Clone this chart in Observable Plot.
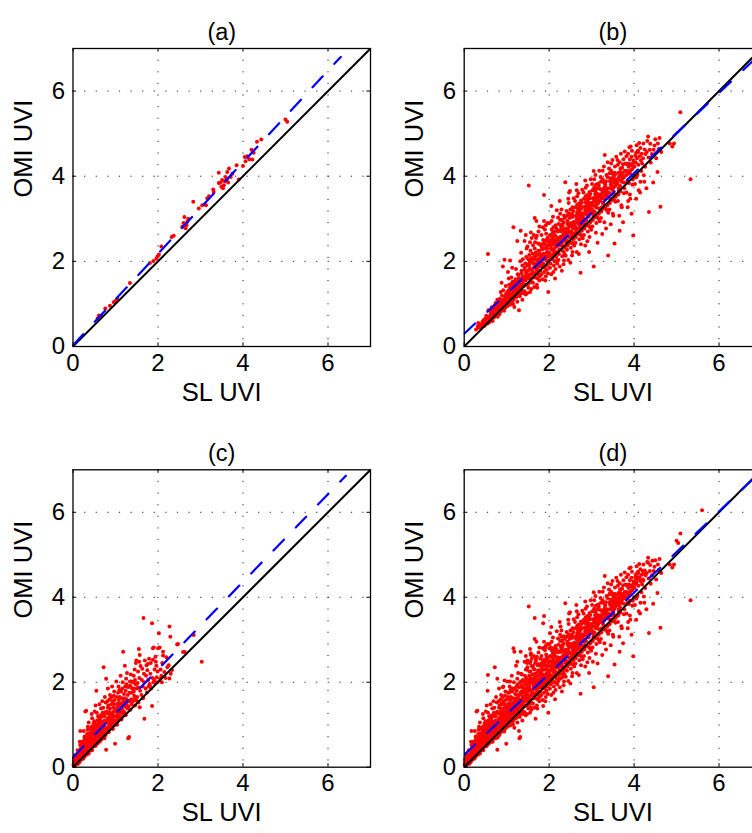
<!DOCTYPE html>
<html><head><meta charset="utf-8">
<script src="https://cdn.jsdelivr.net/npm/d3@7"></script>
<script src="https://cdn.jsdelivr.net/npm/@observablehq/plot@0.6"></script>
<style>
body{margin:0;background:#fff;}
#wrap{position:relative;width:752px;height:833px;overflow:hidden;background:#fff;}
.panel{position:absolute;}
</style></head><body><div id="wrap"></div>
<script>
const axisTicks = [0, 2, 4, 6];
const gridLines = [2, 4, 6];
const axisDomain = [0, 7];
const panelTitles = ["(a)", "(b)", "(c)", "(d)"];
const xLabel = "SL UVI";
const yLabel = "OMI UVI";
// regression lines: [intercept, slope] and drawn x-range
const fitA = [0.03, 1.075];
const fitB = [0.30, 0.943];
const fitC = [0.235, 1.032];
const fitD = [0.29, 0.955];
const fitRangeA = [0, 6.3];
const fitRangeB = [0, 7];
const fitRangeC = [0, 6.42];
const fitRangeD = [0, 7];

const ptsA = [[0.58,0.66],[0.61,0.73],[0.66,0.72],[0.76,0.89],[0.87,0.96],[0.96,1.04],[1.04,1.12],[1.00,1.07],[1.34,1.49],[1.81,1.96],[1.89,2.01],[1.96,2.06],[2.02,2.16],[1.99,2.12],[2.08,2.35],[2.32,2.57],[2.37,2.60],[2.57,2.81],[2.62,3.04],[2.67,2.85],[2.71,3.00],[2.60,2.90],[2.65,2.78],[2.69,2.93],[2.83,3.40],[2.96,3.24],[3.04,3.32],[3.16,3.48],[3.20,3.53],[3.31,3.63],[3.30,3.69],[3.13,3.32],[3.43,4.08],[3.43,3.84],[3.49,3.75],[3.51,3.91],[3.55,3.79],[3.59,3.98],[3.63,4.10],[3.67,4.18],[3.71,3.98],[3.75,4.06],[3.47,3.85],[3.57,3.88],[3.62,3.92],[3.53,3.72],[3.65,3.85],[3.85,4.26],[3.90,3.92],[4.00,4.24],[4.04,4.45],[4.10,4.47],[4.22,4.39],[4.25,4.55],[4.20,4.62],[4.15,4.40],[4.06,4.35],[4.33,4.81],[4.43,4.86],[5.00,5.33],[5.04,5.28]];

const ptsBspread = [
[0.28,0.40],[0.32,0.47],[0.35,0.44],[0.37,0.52],[0.39,0.46],[0.33,0.55],
[0.41,0.50],[0.43,0.58],[0.44,0.52],[0.46,0.62],[0.47,0.55],[0.48,0.49],[0.50,0.66],[0.51,0.58],[0.52,0.72],[0.53,0.61],[0.55,0.54],[0.56,0.68],[0.57,0.85],[0.58,0.63],[0.59,0.57],[0.56,2.17],
[0.61,0.70],[0.62,0.62],[0.63,0.78],[0.64,0.66],[0.65,0.92],[0.66,0.72],[0.67,0.60],[0.68,0.81],[0.69,0.75],[0.70,0.68],[0.71,0.88],[0.72,0.79],[0.73,0.71],[0.74,1.02],[0.75,0.84],[0.76,0.74],[0.77,0.93],[0.78,0.80],[0.79,0.70],[0.72,0.97],[0.66,0.85],[0.78,1.10],
[0.81,0.86],[0.82,0.98],[0.83,0.76],[0.84,1.12],[0.85,0.92],[0.86,0.82],[0.87,1.04],[0.88,0.95],[0.89,1.20],[0.90,0.87],[0.91,1.00],[0.92,1.32],[0.93,0.90],[0.94,1.08],[0.95,2.04],[0.96,0.95],[0.97,1.16],[0.98,1.42],[0.99,1.02],[0.86,1.28],[0.94,0.84],[0.91,1.88],[0.83,1.05],[0.97,0.91],[0.88,1.50],[0.99,1.25],
[1.01,1.10],[1.02,0.95],[1.03,1.30],[1.04,1.18],[1.05,1.02],[1.06,1.45],[1.07,1.22],[1.08,0.98],[1.09,1.35],[1.10,1.12],[1.11,1.62],[1.12,1.25],[1.13,1.05],[1.14,1.40],[1.15,1.18],[1.16,2.80],[1.17,1.30],[1.18,0.93],[1.19,1.52],[1.03,1.75],[1.06,1.28],[1.09,1.15],[1.12,1.48],[1.15,1.00],[1.18,1.38],[1.05,1.60],[1.13,1.85],[1.19,1.21],[1.08,2.02],[1.16,1.10],
[1.21,1.35],[1.22,1.15],[1.23,1.55],[1.24,1.28],[1.25,1.05],[1.26,1.70],[1.27,1.42],[1.28,1.20],[1.29,0.85],[1.30,1.60],[1.31,1.38],[1.32,2.00],[1.33,1.25],[1.34,1.50],[1.35,1.78],[1.36,1.32],[1.37,1.10],[1.38,1.65],[1.39,1.45],[1.22,1.82],[1.25,2.48],[1.28,1.60],[1.31,1.18],[1.34,2.20],[1.37,1.90],[1.23,1.40],[1.29,1.52],[1.35,1.40],[1.39,1.25],[1.33,2.72],[1.26,1.22],[1.38,2.05],[1.30,1.30],[1.36,1.55],
[1.41,1.55],[1.42,1.30],[1.43,1.85],[1.44,1.62],[1.45,1.22],[1.46,2.10],[1.47,1.72],[1.48,1.45],[1.49,2.35],[1.50,1.60],[1.51,1.38],[1.52,3.78],[1.53,1.90],[1.54,1.68],[1.55,1.28],[1.56,2.25],[1.57,1.80],[1.58,1.52],[1.59,2.55],[1.42,2.48],[1.44,1.95],[1.47,2.30],[1.50,1.78],[1.53,2.15],[1.56,1.60],[1.58,2.02],[1.43,1.45],[1.46,1.68],[1.49,1.90],[1.52,1.48],[1.55,2.45],[1.57,2.68],[1.59,1.70],[1.45,2.62],[1.51,2.05],[1.54,1.98],[1.48,1.25],[1.58,1.35],
[1.61,1.75],[1.62,1.50],[1.63,2.05],[1.64,1.85],[1.65,1.40],[1.66,2.30],[1.67,1.95],[1.68,1.62],[1.69,2.55],[1.70,1.80],[1.71,1.45],[1.72,2.15],[1.73,2.00],[1.74,1.70],[1.75,2.70],[1.76,1.88],[1.77,1.55],[1.78,2.40],[1.79,2.10],[1.62,2.38],[1.64,2.62],[1.66,1.72],[1.68,2.20],[1.70,2.95],[1.72,1.85],[1.74,2.42],[1.76,2.25],[1.78,1.65],[1.63,1.62],[1.65,1.95],[1.67,2.45],[1.69,1.90],[1.71,2.60],[1.73,1.60],[1.75,2.05],[1.77,2.82],[1.79,1.78],[1.66,3.02],[1.72,1.38],[1.61,2.18],
[1.81,2.00],[1.82,1.70],[1.83,2.28],[1.84,2.08],[1.85,1.58],[1.86,2.50],[1.87,2.18],[1.88,3.56],[1.89,1.85],[1.90,2.75],[1.91,2.05],[1.92,1.65],[1.93,2.38],[1.94,2.20],[1.95,1.90],[1.96,2.90],[1.97,2.12],[1.98,1.28],[1.99,2.45],[1.82,2.62],[1.84,1.88],[1.86,2.30],[1.88,1.75],[1.90,2.15],[1.92,2.85],[1.94,1.80],[1.96,2.55],[1.98,2.02],[1.83,1.95],[1.85,2.80],[1.87,2.40],[1.89,2.10],[1.91,1.55],[1.93,2.65],[1.95,2.30],[1.97,1.72],[1.99,2.20],[1.81,2.40],[1.86,1.95],[1.92,2.48],[1.96,2.00],[1.88,2.95],
[2.01,2.20],[2.02,1.85],[2.03,2.50],[2.04,2.30],[2.05,1.70],[2.06,2.75],[2.07,2.40],[2.08,2.05],[2.09,3.05],[2.10,2.25],[2.11,1.90],[2.12,2.62],[2.13,2.45],[2.14,1.60],[2.15,2.85],[2.16,2.35],[2.17,2.10],[2.18,3.20],[2.19,2.55],[2.02,2.60],[2.04,2.08],[2.06,2.95],[2.08,2.45],[2.10,1.75],[2.12,2.30],[2.14,2.70],[2.16,2.00],[2.18,2.48],[2.01,2.90],[2.03,1.95],[2.05,2.38],[2.07,2.15],[2.09,2.68],[2.11,2.52],[2.13,2.00],[2.15,2.40],[2.17,2.78],[2.19,1.95],[2.05,3.30],[2.10,2.80],[2.15,1.82],[2.08,2.58],[2.12,2.18],[2.18,2.22],
[2.21,2.42],[2.22,2.03],[2.23,2.73],[2.24,2.48],[2.25,1.88],[2.26,2.97],[2.27,2.58],[2.28,2.27],[2.29,3.22],[2.30,2.43],[2.31,2.12],[2.32,2.85],[2.33,2.63],[2.34,1.93],[2.35,3.08],[2.36,2.52],[2.37,2.33],[2.38,3.86],[2.39,2.77],[2.22,2.88],[2.24,2.28],[2.26,3.12],[2.28,2.71],[2.30,1.78],[2.32,2.55],[2.34,2.92],[2.36,2.18],[2.38,2.67],[2.21,3.03],[2.23,2.17],[2.25,2.56],[2.27,2.37],[2.29,2.86],[2.31,2.74],[2.33,2.24],[2.35,2.60],[2.37,3.02],[2.39,2.13],[2.25,3.42],[2.30,2.98],[2.35,2.02],[2.28,2.82],[2.32,2.36],[2.38,2.46],
[2.41,2.62],[2.42,2.27],[2.43,2.88],[2.44,2.72],[2.45,2.03],[2.46,3.13],[2.47,2.82],[2.48,2.43],[2.49,3.65],[2.50,2.67],[2.51,2.32],[2.52,3.04],[2.53,2.83],[2.54,2.14],[2.55,3.27],[2.56,2.77],[2.57,2.52],[2.58,3.48],[2.59,2.93],[2.42,3.07],[2.44,2.48],[2.46,3.37],[2.48,2.86],[2.50,1.97],[2.52,2.70],[2.54,3.12],[2.56,2.42],[2.58,2.92],[2.41,3.18],[2.43,2.37],[2.45,2.76],[2.47,2.57],[2.49,3.10],[2.51,2.90],[2.53,2.44],[2.55,2.84],[2.57,3.18],[2.59,2.37],[2.45,3.47],[2.50,3.22],[2.55,2.22],[2.48,3.02],[2.52,2.56],[2.58,2.66],[2.47,3.62],
[2.61,2.82],[2.62,2.44],[2.63,3.08],[2.64,2.92],[2.65,2.22],[2.66,3.33],[2.67,3.02],[2.68,2.64],[2.69,3.60],[2.70,2.87],[2.71,2.52],[2.72,3.20],[2.73,3.07],[2.74,1.73],[2.75,3.43],[2.76,2.97],[2.77,2.72],[2.78,3.68],[2.79,3.13],[2.62,3.27],[2.64,2.67],[2.66,3.53],[2.68,3.10],[2.70,2.17],[2.72,2.94],[2.74,3.32],[2.76,2.60],[2.78,3.08],[2.61,3.42],[2.63,2.57],[2.65,3.00],[2.67,2.77],[2.69,3.26],[2.71,3.14],[2.73,2.64],[2.75,3.04],[2.77,3.38],[2.79,2.54],[2.65,3.67],[2.70,3.36],[2.75,2.40],[2.68,3.22],[2.72,2.80],[2.78,2.86],[2.64,3.82],
[2.81,3.02],[2.82,2.62],[2.83,3.28],[2.84,3.12],[2.85,2.37],[2.86,3.53],[2.87,3.22],[2.88,2.84],[2.89,3.78],[2.90,3.07],[2.91,2.70],[2.92,3.40],[2.93,3.27],[2.94,2.22],[2.95,3.63],[2.96,3.17],[2.97,2.92],[2.98,3.93],[2.99,3.37],[2.82,3.47],[2.84,2.87],[2.86,3.73],[2.88,3.30],[2.90,2.47],[2.92,3.14],[2.94,3.52],[2.96,2.80],[2.98,3.32],[2.81,3.62],[2.83,2.77],[2.85,3.20],[2.87,2.97],[2.89,3.46],[2.91,3.34],[2.93,2.84],[2.95,3.24],[2.97,3.58],[2.99,2.74],[2.85,3.90],[2.90,3.56],[2.95,2.57],[2.88,3.42],
[3.01,3.22],[3.02,2.82],[3.03,3.48],[3.04,3.32],[3.05,1.88],[3.06,3.73],[3.07,3.42],[3.08,3.04],[3.09,4.03],[3.10,3.27],[3.11,2.90],[3.12,3.60],[3.13,3.47],[3.14,2.44],[3.15,3.83],[3.16,3.37],[3.17,3.12],[3.18,4.13],[3.19,3.57],[3.02,3.67],[3.04,3.07],[3.06,3.93],[3.08,3.50],[3.10,2.67],[3.12,3.34],[3.14,3.72],[3.16,3.00],[3.18,3.52],[3.01,3.82],[3.03,2.97],[3.05,3.40],[3.07,3.17],[3.09,3.66],[3.11,3.54],[3.13,3.04],[3.15,3.44],[3.17,3.78],[3.19,2.94],[3.05,4.12],[3.10,3.80],
[3.21,3.42],[3.22,3.02],[3.23,3.68],[3.24,3.52],[3.25,2.64],[3.26,3.93],[3.27,3.62],[3.28,3.24],[3.29,4.23],[3.30,3.47],[3.31,4.50],[3.32,3.80],[3.33,3.67],[3.34,2.77],[3.35,4.03],[3.36,3.57],[3.37,3.32],[3.38,4.33],[3.39,2.14],[3.22,3.87],[3.24,3.27],[3.26,4.13],[3.28,3.70],[3.30,2.92],[3.32,3.54],[3.34,3.88],[3.36,3.20],[3.38,3.72],[3.21,3.98],[3.23,3.17],[3.25,3.60],[3.27,3.37],[3.29,3.86],[3.31,3.74],[3.33,3.24],[3.35,3.64],[3.37,3.98],[3.39,3.14],
[3.41,3.62],[3.42,3.22],[3.43,3.88],[3.44,3.72],[3.45,2.87],[3.46,4.13],[3.47,3.82],[3.48,3.44],[3.49,4.38],[3.50,3.67],[3.51,3.07],[3.52,4.00],[3.53,3.87],[3.54,2.42],[3.55,4.23],[3.56,3.77],[3.57,3.52],[3.58,4.46],[3.59,3.93],[3.42,4.07],[3.44,3.47],[3.46,4.30],[3.48,3.90],[3.50,3.12],[3.52,3.74],[3.54,4.08],[3.56,3.40],[3.58,3.92],[3.41,4.18],[3.43,3.37],[3.45,3.80],[3.47,3.57],[3.49,4.06],[3.51,3.94],[3.53,3.44],[3.55,3.84],
[3.61,3.82],[3.62,3.42],[3.63,4.08],[3.64,3.92],[3.65,3.07],[3.66,4.33],[3.67,4.02],[3.68,3.64],[3.69,4.53],[3.70,3.87],[3.71,3.27],[3.72,4.20],[3.73,4.07],[3.74,2.92],[3.75,4.40],[3.76,3.97],[3.77,3.72],[3.78,4.58],[3.79,4.13],[3.62,4.27],[3.64,3.67],[3.66,2.72],[3.68,4.10],[3.70,3.32],[3.72,3.94],[3.74,4.28],[3.76,3.60],[3.78,4.12],[3.61,4.38],[3.63,3.57],[3.65,4.00],[3.67,3.77],
[3.81,4.02],[3.82,3.62],[3.83,4.28],[3.84,4.12],[3.85,3.27],[3.86,4.53],[3.87,4.22],[3.88,3.84],[3.89,4.68],[3.90,4.07],[3.91,3.47],[3.92,4.70],[3.93,4.27],[3.94,3.12],[3.95,4.60],[3.96,4.17],[3.97,3.92],[3.98,2.61],[3.99,4.37],[3.82,4.47],[3.84,3.87],[3.86,3.42],[3.88,4.30],[3.90,3.57],[3.92,4.14],[3.94,4.46],[3.96,3.80],[3.98,4.32],
[4.01,4.22],[4.02,3.82],[4.03,4.48],[4.04,4.32],[4.05,3.47],[4.06,4.73],[4.07,4.42],[4.08,4.04],[4.09,4.60],[4.10,4.27],[4.11,3.67],[4.12,4.78],[4.13,4.47],[4.14,3.62],[4.15,4.66],[4.16,4.37],[4.17,4.12],[4.18,4.53],[4.19,4.30],[4.05,3.97],[4.10,4.57],[4.15,3.87],
[4.21,4.42],[4.23,4.02],[4.25,4.63],[4.27,4.52],[4.29,3.72],[4.31,4.83],[4.33,4.93],[4.35,3.16],[4.37,4.62],[4.39,4.32],[4.22,4.77],[4.26,4.22],[4.30,4.57],[4.34,4.44],[4.38,4.76],[4.24,3.87],
[4.42,4.52],[4.45,3.85],[4.48,4.72],[4.50,4.87],[4.52,4.42],[4.55,4.10],[4.58,4.64],[4.60,4.90],[4.62,3.28],[4.64,4.57],[4.46,4.62],[4.56,4.77],
[4.84,4.77],[4.90,4.70],[4.94,4.77],[5.09,5.50],[5.33,3.93]];

const ptsBcore = [[0.45,0.56],[0.49,0.60],[0.54,0.66],[0.58,0.70],[0.62,0.74],[0.64,0.80],[0.68,0.78],[0.70,0.86],[0.73,0.84],[0.75,0.92],[0.77,0.86],[0.80,0.95],[0.82,0.90],[0.84,0.99],[0.87,0.97],[0.89,1.06],[0.90,0.98],[0.92,1.10],[0.95,1.05],[0.96,1.18],[0.98,1.08],[1.00,1.22],[1.02,1.15],[1.04,1.30],[1.06,1.12],[1.07,1.36],[1.09,1.24],[1.11,1.40],[1.13,1.20],[1.14,1.52],[1.16,1.33],[1.18,1.45],[1.20,1.28],[1.21,1.58],[1.23,1.36],[1.25,1.50],[1.27,1.32],[1.28,1.68],[1.30,1.45],[1.32,1.58],[1.33,1.40],[1.35,1.72],[1.37,1.52],[1.39,1.62],[1.40,1.42],[1.42,1.80],[1.44,1.55],[1.46,1.74],[1.48,1.60],[1.50,1.92],[1.52,1.66],[1.54,1.82],[1.56,1.70],[1.58,2.08],[1.60,1.82],[1.62,1.95],[1.64,1.72],[1.66,2.12],[1.68,1.88],[1.70,2.05],[1.72,1.78],[1.74,2.25],[1.76,2.00],[1.78,2.18],[1.80,1.90],[1.82,2.35],[1.84,2.15],[1.86,2.05],[1.88,2.42],[1.90,2.30],[1.92,2.08],[1.94,2.50],[1.96,2.22],[1.98,2.38],[2.00,2.12],[2.03,2.62],[2.06,2.28],[2.09,2.45],[2.12,2.40],[2.15,2.60],[2.18,2.35],[2.21,2.70],[2.24,2.52],[2.27,2.45],[2.30,2.78],[2.33,2.55],[2.36,2.70],[2.40,2.50],[2.43,2.95],[2.46,2.68],[2.50,2.85],[2.53,2.60],[2.56,3.05],[2.60,2.85],[2.63,2.75],[2.66,3.15],[2.70,2.98],[2.73,2.85],[2.76,3.25],[2.80,3.10],[2.83,2.95],[2.86,3.38],[2.90,3.20],[2.93,3.05],[2.96,3.48],[3.00,3.30],[3.04,3.15],[3.08,3.58],[3.12,3.40],[3.16,3.25],[3.20,3.70],[3.24,3.48],[3.28,3.35],[3.32,3.82],[3.36,3.62],[3.40,3.50],[3.44,3.95],[3.48,3.75],[3.52,3.60],[3.56,4.05],[3.60,3.85],[3.64,3.72],[3.68,4.18],[3.72,4.00],[3.76,3.85],[3.80,4.30],[3.85,4.05],[3.90,4.40],[3.95,4.25],[4.00,4.00],[4.05,4.55]];

const ptsCspread = [
[0.01,0.05],[0.02,0.12],[0.03,0.08],[0.04,0.18],[0.05,0.10],[0.06,0.22],[0.07,0.14],[0.08,0.07],[0.09,0.25],[0.02,0.20],[0.04,0.03],[0.06,0.15],[0.08,0.30],[0.05,0.28],
[0.11,0.15],[0.12,0.28],[0.13,0.20],[0.14,0.38],[0.15,0.12],[0.16,0.32],[0.17,0.85],[0.18,0.24],[0.19,0.45],[0.11,0.40],[0.13,0.10],[0.15,0.30],[0.17,0.52],[0.19,0.18],[0.12,0.18],[0.14,0.25],[0.16,0.60],[0.18,0.36],
[0.21,0.25],[0.22,0.42],[0.23,0.30],[0.24,0.55],[0.25,0.22],[0.26,0.48],[0.27,0.35],[0.28,0.68],[0.29,1.31],[0.21,0.60],[0.23,0.45],[0.25,0.38],[0.27,0.72],[0.29,0.28],[0.22,0.32],[0.24,0.20],[0.26,0.62],[0.28,0.40],[0.30,0.52],[0.25,0.85],
[0.31,0.38],[0.32,0.55],[0.33,0.30],[0.34,0.70],[0.35,0.45],[0.36,0.62],[0.37,0.32],[0.38,0.80],[0.39,0.50],[0.31,1.33],[0.33,0.65],[0.35,0.95],[0.37,0.58],[0.39,0.40],[0.32,0.42],[0.34,0.88],[0.36,0.35],[0.38,0.68],[0.40,0.55],[0.33,0.78],[0.37,1.05],[0.39,0.72],
[0.41,0.45],[0.42,0.68],[0.43,0.52],[0.44,0.85],[0.45,0.40],[0.46,0.75],[0.47,0.60],[0.48,1.02],[0.49,0.50],[0.41,0.90],[0.43,0.72],[0.45,1.15],[0.47,0.48],[0.49,0.82],[0.42,0.58],[0.44,0.95],[0.46,0.52],[0.48,0.70],[0.50,0.62],[0.44,1.25],[0.47,0.88],[0.50,1.08],
[0.51,0.60],[0.52,0.80],[0.53,0.50],[0.54,0.95],[0.55,1.80],[0.56,0.72],[0.57,1.10],[0.58,0.62],[0.59,0.88],[0.51,1.31],[0.53,0.68],[0.55,0.85],[0.57,0.55],[0.59,1.20],[0.52,1.02],[0.54,0.62],[0.56,1.28],[0.58,0.78],[0.60,0.98],[0.53,1.45],[0.56,0.90],[0.59,0.70],
[0.61,0.70],[0.62,0.92],[0.63,0.60],[0.64,1.15],[0.65,0.80],[0.66,1.38],[0.67,0.72],[0.68,1.00],[0.69,1.55],[0.61,1.05],[0.63,0.82],[0.65,1.22],[0.67,0.65],[0.69,0.90],[0.62,1.48],[0.64,0.75],[0.66,1.08],[0.68,0.85],[0.70,1.28],[0.65,0.95],
[0.71,0.78],[0.72,2.35],[0.73,1.05],[0.74,0.68],[0.75,1.25],[0.76,0.90],[0.77,1.52],[0.78,0.41],[0.79,1.10],[0.71,1.40],[0.73,0.85],[0.75,1.65],[0.77,0.80],[0.79,1.30],[0.72,1.00],[0.74,1.20],[0.76,0.75],[0.78,2.08],[0.80,0.92],[0.75,1.08],
[0.81,0.88],[0.82,1.15],[0.83,1.45],[0.84,0.82],[0.85,1.30],[0.86,1.00],[0.87,1.70],[0.88,0.92],[0.89,1.22],[0.81,1.55],[0.83,1.05],[0.85,0.95],[0.87,1.38],[0.89,1.05],[0.82,1.85],[0.84,1.25],[0.86,1.60],[0.88,1.12],
[0.91,0.98],[0.92,1.25],[0.93,1.55],[0.94,0.90],[0.95,1.40],[0.96,1.10],[0.97,1.78],[0.98,1.00],[0.99,1.32],[0.91,1.65],[0.93,1.15],[0.95,1.05],[0.97,1.48],[0.99,0.55],[0.92,1.90],[0.94,1.30],[0.96,1.68],[1.00,1.20],
[1.01,1.08],[1.02,1.38],[1.03,1.65],[1.04,1.00],[1.05,1.50],[1.06,1.22],[1.07,1.90],[1.08,1.12],[1.09,1.45],[1.02,2.02],[1.04,1.28],[1.06,1.75],[1.08,1.58],[1.10,1.30],[1.05,1.15],[1.09,1.82],
[1.11,1.20],[1.12,1.50],[1.13,1.78],[1.14,1.12],[1.15,1.62],[1.16,1.35],[1.17,2.00],[1.18,1.25],[1.19,1.55],[1.12,2.15],[1.14,1.40],[1.16,1.85],[1.18,2.72],[1.20,1.45],[1.15,1.28],
[1.21,1.30],[1.22,1.62],[1.23,1.90],[1.24,1.22],[1.25,2.08],[1.26,1.48],[1.27,2.22],[1.28,1.38],[1.29,1.70],[1.22,2.39],[1.24,1.80],[1.26,1.95],[1.28,1.55],[1.30,0.68],
[1.31,1.42],[1.32,0.71],[1.33,1.75],[1.34,2.02],[1.35,1.35],[1.36,2.18],[1.37,1.60],[1.38,2.02],[1.39,1.85],[1.32,1.55],[1.35,1.92],[1.38,1.48],
[1.41,1.55],[1.42,1.85],[1.43,2.15],[1.44,1.68],[1.45,2.30],[1.46,1.45],[1.47,1.95],[1.48,2.45],[1.49,1.57],[1.49,2.51],[1.43,1.78],[1.46,2.05],
[1.51,1.65],[1.52,1.98],[1.53,2.25],[1.54,1.52],[1.55,2.78],[1.56,2.10],[1.57,2.64],[1.57,1.41],[1.58,1.80],[1.59,2.38],[1.53,1.88],[1.56,2.48],
[1.61,1.70],[1.62,2.05],[1.63,2.32],[1.64,1.90],[1.66,3.51],[1.67,2.20],[1.68,1.14],[1.69,2.51],[1.65,1.62],[1.68,2.00],
[1.71,1.85],[1.72,2.15],[1.73,2.40],[1.74,1.76],[1.76,2.43],[1.77,2.05],[1.78,1.90],[1.80,1.96],[1.75,2.28],[1.79,2.55],
[1.81,1.92],[1.82,2.20],[1.83,2.45],[1.84,1.85],[1.86,1.44],[1.86,3.39],[1.87,2.10],[1.88,2.53],[1.88,2.80],[1.89,2.00],
[1.90,2.82],[1.91,2.05],[1.92,2.30],[1.93,1.98],[1.94,2.60],[1.96,2.39],[1.97,2.12],[1.98,2.00],[1.99,2.25],[1.95,2.48],
[2.00,2.80],[2.02,3.15],[2.04,2.82],[2.05,2.08],[2.06,2.30],[2.08,2.15],[2.10,2.45],[2.09,2.00],
[2.12,2.63],[2.12,2.72],[2.15,2.24],[2.18,2.10],[2.20,2.59],[2.22,2.35],[2.27,2.09],[2.27,3.31],[2.29,3.07],[2.30,2.20],[2.33,2.29],[2.25,2.40],
[2.45,2.89],[2.47,2.90],[2.59,2.71],[2.63,2.71],[2.84,3.11],[3.03,2.48]];

const ptsCcore = [[0.03,0.15],[0.05,0.06],[0.07,0.20],[0.09,0.12],[0.10,0.18],[0.12,0.08],[0.13,0.30],[0.15,0.22],[0.16,0.14],[0.18,0.42],[0.19,0.28],[0.20,0.20],[0.21,0.48],[0.22,0.36],[0.24,0.28],[0.25,0.55],[0.26,0.40],[0.27,0.25],[0.28,0.52],[0.30,0.36],[0.31,0.62],[0.32,0.48],[0.34,0.40],[0.35,0.68],[0.36,0.52],[0.38,0.42],[0.39,0.75],[0.40,0.60],[0.42,0.48],[0.43,0.80],[0.44,0.62],[0.46,0.55],[0.47,0.95],[0.48,0.62],[0.50,0.75],[0.51,0.52],[0.52,0.90],[0.54,0.72],[0.55,0.62],[0.57,1.00],[0.58,0.80],[0.60,0.68],[0.61,1.12],[0.62,0.82],[0.64,0.70],[0.66,0.98],[0.67,0.80],[0.69,1.20],[0.70,0.88],[0.72,0.78],[0.74,1.10],[0.75,0.95],[0.77,1.30],[0.78,0.88],[0.80,1.05],[0.82,1.40],[0.84,0.95],[0.86,1.18],[0.88,1.02],[0.90,1.48],[0.92,1.10],[0.94,1.22],[0.96,1.00],[0.98,1.58],[1.00,1.35],[1.02,1.10],[1.05,1.42],[1.08,1.30],[1.10,1.65],[1.13,1.35],[1.16,1.50],[1.20,1.72],[1.23,1.42],[1.26,1.60],[1.30,1.88],[1.34,1.55],[1.38,1.75],[1.42,2.00],[1.46,1.62],[1.50,1.85]];

const extraD = [[5.60,6.05]];
const ptsB = [...ptsBspread, ...ptsBcore];
const ptsC = [...ptsCspread, ...ptsCcore];
const ptsD = [...ptsA, ...ptsB, ...ptsC, ...extraD];

const panels = [
  {pts: ptsA, fit: fitA, range: fitRangeA, title: panelTitles[0], left: 0,   top: 0,   w: 376, h: 416, ml: 72.5, mr: 6,  mt: 48,   mb: 70},
  {pts: ptsB, fit: fitB, range: fitRangeB, title: panelTitles[1], left: 376, top: 0,   w: 400, h: 416, ml: 87.7, mr: 15, mt: 48,   mb: 70},
  {pts: ptsC, fit: fitC, range: fitRangeC, title: panelTitles[2], left: 0,   top: 416, w: 376, h: 417, ml: 72.5, mr: 6,  mt: 53.3, mb: 66.3},
  {pts: ptsD, fit: fitD, range: fitRangeD, title: panelTitles[3], left: 376, top: 416, w: 400, h: 417, ml: 87.7, mr: 15, mt: 53.3, mb: 66.3}
];

const TICK_LEN = 0.085;
const font = "'Liberation Sans', Arial, Helvetica, sans-serif";
const wrap = document.getElementById("wrap");

for (const p of panels) {
  const [b0, b1] = p.fit;
  const svg = Plot.plot({
    width: p.w, height: p.h,
    marginLeft: p.ml, marginRight: p.mr, marginTop: p.mt, marginBottom: p.mb,
    x: {domain: axisDomain, axis: null},
    y: {domain: axisDomain, axis: null},
    style: {fontFamily: font, fontSize: "23px", color: "#000", background: "#fff", overflow: "visible"},
    marks: [
      Plot.ruleX(gridLines, {x: d => d, stroke: "#222", strokeWidth: 1, strokeDasharray: "1.2,10.4"}),
      Plot.ruleY(gridLines, {y: d => d, stroke: "#222", strokeWidth: 1, strokeDasharray: "1.2,10.4"}),
      Plot.dot(p.pts, {x: d => d[0], y: d => d[1], r: 2, fill: "#ff0000", stroke: null}),
      Plot.line(axisDomain, {x: d => d, y: d => d, stroke: "#000", strokeWidth: 2, clip: true}),
      Plot.line(p.range, {x: d => d, y: d => b0 + b1 * d, stroke: "#0000ff", strokeWidth: 2.2, strokeDasharray: "15,17", clip: true}),
      Plot.ruleX(axisTicks, {x: d => d, y1: axisDomain[0], y2: axisDomain[0] + TICK_LEN, stroke: "#000"}),
      Plot.ruleX(axisTicks, {x: d => d, y1: axisDomain[1] - TICK_LEN, y2: axisDomain[1], stroke: "#000"}),
      Plot.ruleY(axisTicks, {y: d => d, x1: axisDomain[0], x2: axisDomain[0] + TICK_LEN, stroke: "#000"}),
      Plot.ruleY(axisTicks, {y: d => d, x1: axisDomain[1] - TICK_LEN, x2: axisDomain[1], stroke: "#000"}),
      Plot.frame({stroke: "#000", strokeWidth: 1.3}),
      Plot.text(axisTicks, {x: d => d, text: d => String(d), frameAnchor: "bottom", dy: 24, fontSize: 24, fill: "#000"}),
      Plot.text(axisTicks, {y: d => d, text: d => String(d), frameAnchor: "left", dx: -8, textAnchor: "end", fontSize: 24, fill: "#000"}),
      Plot.text([xLabel], {text: d => d, frameAnchor: "bottom", dy: 54, fontSize: 25.5, fill: "#000"}),
      Plot.text([yLabel], {text: d => d, frameAnchor: "left", dx: -49, rotate: -90, fontSize: 25.5, fill: "#000"}),
      Plot.text([p.title], {text: d => d, frameAnchor: "top", dy: -25, fontSize: 23.5, fill: "#000"})
    ]
  });
  svg.classList.add("panel");
  svg.style.left = p.left + "px";
  svg.style.top = p.top + "px";
  wrap.appendChild(svg);
}
</script>
</body></html>
